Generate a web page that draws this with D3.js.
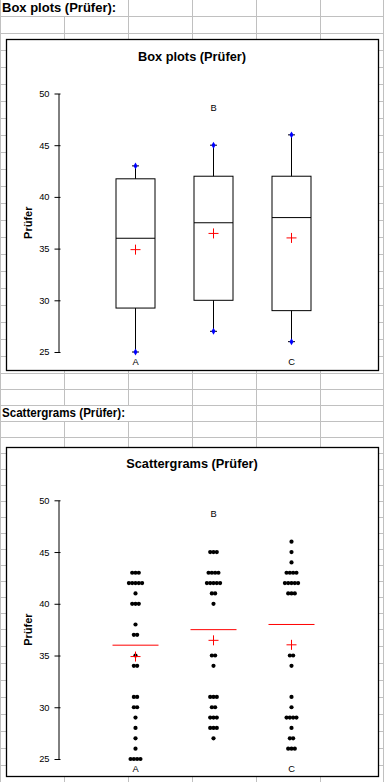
<!DOCTYPE html>
<html>
<head>
<meta charset="utf-8">
<script src="https://cdn.jsdelivr.net/npm/d3@7"></script>
<style>
  body { margin: 0; background: #fff; }
  svg { display: block; }
  text { font-family: "Liberation Sans", Arial, sans-serif; }
</style>
</head>
<body>
<svg id="canvas"></svg>
<script>
let groups = ['A', 'B', 'C'];
let labelSide = ['bottom', 'top', 'bottom'];
let valuesA = [43, 43, 43, 42, 42, 42, 42, 42, 41, 40, 40, 40, 38, 37, 37, 35, 34, 34, 31, 31, 30, 30, 29, 28, 27, 26, 25, 25, 25, 25];
let valuesB = [45, 45, 45, 43, 43, 43, 43, 42, 42, 42, 42, 42, 41, 41, 40, 35, 35, 34, 31, 31, 31, 30, 30, 29, 29, 29, 28, 28, 28, 27];
let valuesC = [46, 45, 44, 43, 43, 43, 43, 42, 42, 42, 42, 42, 41, 41, 41, 35, 35, 34, 31, 30, 29, 29, 29, 29, 28, 27, 27, 26, 26, 26];
let yTicks = [25, 30, 35, 40, 45, 50];
let yDomain = [25, 50];
let sheetHeaders = ['Box plots (Prüfer):', 'Scattergrams (Prüfer):'];
let chartTitles = ['Box plots (Prüfer)', 'Scattergrams (Prüfer)'];
let yTitle = 'Prüfer';

let width = 384;
let height = 782;
let gridColor = '#c0c0c0';
let font = '"Liberation Sans", Arial, sans-serif';

let series = [valuesA, valuesB, valuesC];

let canvas = d3.select('#canvas')
    .attr('width', width)
    .attr('height', height);

let xScale = d3.scalePoint()
    .domain(groups)
    .range([135.5, 291.5]);

// spreadsheet layer
let drawSheet = () => {
    let rowLines = d3.range(16.5, 374, 17)
        .concat(d3.range(389.5, 630, 16))
        .concat(d3.range(646.5, height, 17));
    let colLines = [0.5, 64.5, 128.5, 192.5, 256.5, 320.5, 383.5];

    canvas.append('g').selectAll('line.row')
        .data(rowLines)
        .enter()
        .append('line')
        .attr('x1', 0).attr('x2', width)
        .attr('y1', d => d).attr('y2', d => d)
        .attr('stroke', gridColor);

    canvas.append('g').selectAll('line.col')
        .data(colLines)
        .enter()
        .append('line')
        .attr('x1', d => d).attr('x2', d => d)
        .attr('y1', 0).attr('y2', height)
        .attr('stroke', gridColor);

    // header cells overflow into the next columns
    let headerRows = [
        { y0: 0, y1: 16, x1: 127.5, base: 12, len: null },
        { y0: 406, y1: 421, x1: 191.5, base: 417, len: 123 }
    ];
    headerRows.forEach((r, i) => {
        canvas.append('rect')
            .attr('x', 1).attr('y', r.y0)
            .attr('width', r.x1 - 1).attr('height', r.y1 - r.y0)
            .attr('fill', '#fff');
        let t = canvas.append('text')
            .attr('x', 2).attr('y', r.base)
            .attr('font-size', 13)
            .attr('font-weight', 'bold')
            .text(sheetHeaders[i]);
        if (r.len) t.attr('textLength', r.len).attr('lengthAdjust', 'spacingAndGlyphs');
    });
};

let drawPanel = (p, index) => {
    let g = canvas.append('g');

    g.append('rect')
        .attr('x', 6.5).attr('y', p.frameTop)
        .attr('width', 372).attr('height', p.frameBottom - p.frameTop)
        .attr('fill', '#fff')
        .attr('stroke', '#000')
        .attr('stroke-width', 1.3);

    let yScale = d3.scaleLinear()
        .domain(yDomain)
        .range([p.yBottom, p.yTop]);

    g.append('text')
        .attr('x', 192).attr('y', p.yTop - 32.5)
        .attr('text-anchor', 'middle')
        .attr('font-size', 12.8)
        .attr('font-weight', 'bold')
        .text(chartTitles[index]);

    let yAxis = d3.axisLeft(yScale)
        .tickValues(yTicks)
        .tickSize(4)
        .tickSizeOuter(0)
        .tickPadding(5);

    let axisG = g.append('g')
        .attr('transform', 'translate(58.5, 0)')
        .call(yAxis)
        .attr('font-size', 9.3)
        .attr('font-family', font);
    axisG.select('.domain').attr('stroke', '#000');
    axisG.selectAll('.tick line').attr('x1', 2).attr('stroke', '#000');
    axisG.selectAll('.tick text').attr('fill', '#000');

    g.append('text')
        .attr('transform', `translate(31.5, ${(p.yTop + p.yBottom) / 2}) rotate(-90)`)
        .attr('text-anchor', 'middle')
        .attr('font-size', 11)
        .attr('font-weight', 'bold')
        .text(yTitle);

    g.selectAll('text.cat')
        .data(groups)
        .enter()
        .append('text')
        .attr('class', 'cat')
        .attr('x', d => xScale(d))
        .attr('y', (d, i) => labelSide[i] === 'top' ? p.yTop + 17 : p.yBottom + 13)
        .attr('text-anchor', 'middle')
        .attr('font-size', 9.3)
        .attr('fill', '#000')
        .text(d => d);

    return { g, yScale };
};

let drawMeans = (sel, yScale) => {
    sel.append('line')
        .attr('x1', d => xScale(d.name) - 5).attr('x2', d => xScale(d.name) + 5)
        .attr('y1', d => yScale(d.mean)).attr('y2', d => yScale(d.mean))
        .attr('stroke', '#ff0000');
    sel.append('line')
        .attr('x1', d => xScale(d.name)).attr('x2', d => xScale(d.name))
        .attr('y1', d => yScale(d.mean) - 5).attr('y2', d => yScale(d.mean) + 5)
        .attr('stroke', '#ff0000');
};

let drawBoxes = (g, yScale) => {
    let stats = series.map((vals, i) => {
        let s = vals.slice().sort(d3.ascending);
        return {
            name: groups[i],
            min: d3.min(s),
            q1: d3.quantile(s, 0.25),
            med: d3.median(s),
            q3: d3.quantile(s, 0.75),
            max: d3.max(s),
            mean: d3.mean(s)
        };
    });

    let box = g.selectAll('g.box')
        .data(stats)
        .enter()
        .append('g')
        .attr('class', 'box');

    // whiskers
    box.append('line')
        .attr('x1', d => xScale(d.name)).attr('x2', d => xScale(d.name))
        .attr('y1', d => yScale(d.max)).attr('y2', d => yScale(d.min))
        .attr('stroke', '#000');

    box.append('rect')
        .attr('x', d => xScale(d.name) - 19.5)
        .attr('width', 39)
        .attr('y', d => yScale(d.q3))
        .attr('height', d => yScale(d.q1) - yScale(d.q3))
        .attr('fill', '#fff')
        .attr('stroke', '#000');

    box.append('line')
        .attr('x1', d => xScale(d.name) - 19.5).attr('x2', d => xScale(d.name) + 19.5)
        .attr('y1', d => yScale(d.med)).attr('y2', d => yScale(d.med))
        .attr('stroke', '#000');

    ['min', 'max'].forEach(k => {
        box.append('line')
            .attr('x1', d => xScale(d.name) - 3.5).attr('x2', d => xScale(d.name) + 3.5)
            .attr('y1', d => yScale(d[k])).attr('y2', d => yScale(d[k]))
            .attr('stroke', '#000');
        box.append('path')
            .attr('d', d3.symbol(d3.symbolDiamond, 14))
            .attr('transform', d => `translate(${xScale(d.name)}, ${yScale(d[k])})`)
            .attr('fill', '#0000ff');
    });

    drawMeans(box, yScale);
};

let drawScatter = (g, yScale) => {
    let spacing = 3.3;
    let dots = [];
    series.forEach((vals, i) => {
        d3.rollups(vals, v => v.length, d => d).forEach(([value, count]) => {
            for (let j = 0; j < count; j++) {
                dots.push({ name: groups[i], value: value, offset: (j - (count - 1) / 2) * spacing });
            }
        });
    });

    g.selectAll('circle.dot')
        .data(dots)
        .enter()
        .append('circle')
        .attr('class', 'dot')
        .attr('cx', d => xScale(d.name) + d.offset)
        .attr('cy', d => yScale(d.value))
        .attr('r', 2.1)
        .attr('fill', '#000');

    let stats = series.map((vals, i) => ({ name: groups[i], med: d3.median(vals), mean: d3.mean(vals) }));

    let st = g.selectAll('g.stat')
        .data(stats)
        .enter()
        .append('g')
        .attr('class', 'stat');

    st.append('line')
        .attr('x1', d => xScale(d.name) - 23).attr('x2', d => xScale(d.name) + 23)
        .attr('y1', d => yScale(d.med)).attr('y2', d => yScale(d.med))
        .attr('stroke', '#ff0000');

    drawMeans(st, yScale);
};

drawSheet();

let boxPanel = drawPanel({ frameTop: 39.5, frameBottom: 370.5, yTop: 93.5, yBottom: 352 }, 0);
drawBoxes(boxPanel.g, boxPanel.yScale);

let scatterPanel = drawPanel({ frameTop: 447.5, frameBottom: 776.5, yTop: 500.3, yBottom: 759 }, 1);
drawScatter(scatterPanel.g, scatterPanel.yScale);
</script>
</body>
</html>
